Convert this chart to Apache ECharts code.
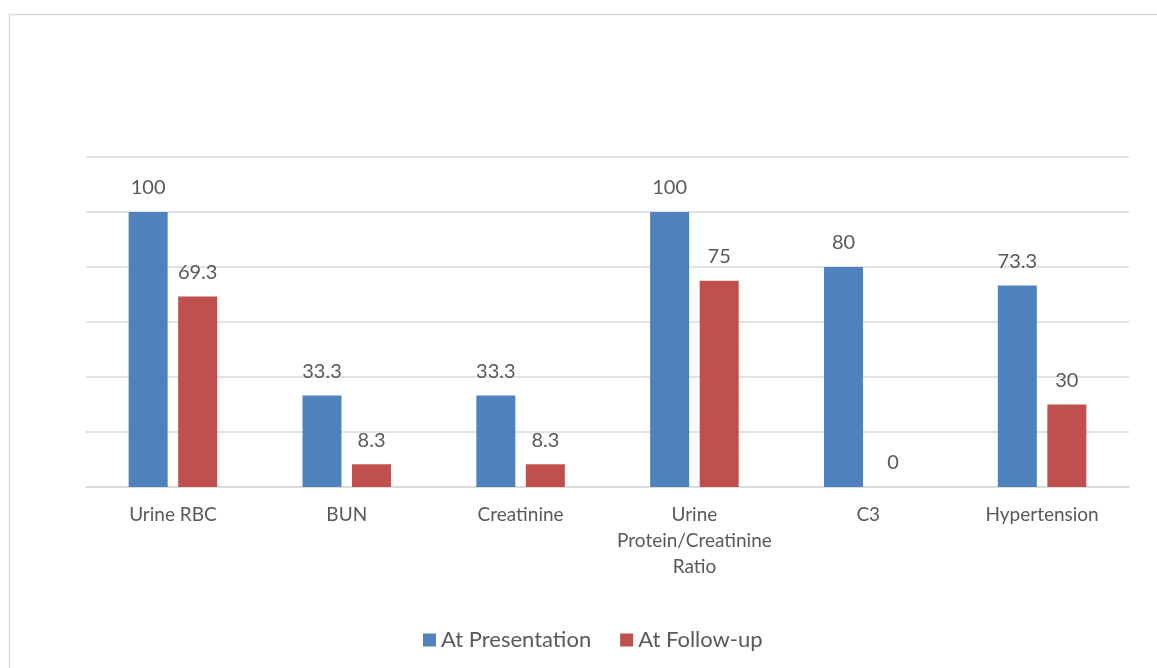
<!DOCTYPE html>
<html>
<head>
<meta charset="utf-8">
<style>
  html, body { margin: 0; padding: 0; background: #ffffff; }
  #chart { width: 1157px; height: 668px; }
</style>
<script src="https://cdn.jsdelivr.net/npm/echarts@6/dist/echarts.min.js"></script>
</head>
<body>
<div id="chart"></div>
<script>
// Categories and percentage values for each group
const categories = ['Urine RBC', 'BUN', 'Creatinine', 'Urine\nProtein/Creatinine\nRatio', 'C3', 'Hypertension'];
const atPresentation = [100, 33.3, 33.3, 100, 80, 73.3];
const atFollowUp = [69.3, 8.3, 8.3, 75, 0, 30];
const seriesNames = ['At Presentation', 'At Follow-up'];

const FONT = 'Lato, "Open Sans", sans-serif';
const TEXT = '#595959';
const GRID = '#d9d9d9';

const chart = echarts.init(document.getElementById('chart'), null, { renderer: 'canvas' });

const labelStyle = {
  show: true,
  position: 'top',
  distance: 14,
  color: TEXT,
  fontFamily: FONT,
  fontSize: 20
};

chart.setOption({
  backgroundColor: '#ffffff',
  animation: false,
  graphic: [{
    type: 'rect',
    shape: { x: 9.5, y: 14.5, width: 1300, height: 800 },
    style: { fill: 'none', stroke: GRID, lineWidth: 1.5 },
    silent: true
  }],
  legend: {
    data: seriesNames,
    left: 418,
    top: 624,
    icon: 'rect',
    itemWidth: 13,
    itemHeight: 13,
    itemGap: 29,
    textStyle: { color: TEXT, fontFamily: FONT, fontSize: 22 }
  },
  grid: { left: 86, right: 28, top: 157, bottom: 181, containLabel: false },
  xAxis: {
    type: 'category',
    data: categories,
    axisLine: { show: true, lineStyle: { color: GRID, width: 1.5 } },
    axisTick: { show: false },
    axisLabel: {
      color: TEXT,
      fontFamily: FONT,
      fontSize: 19,
      margin: 15,
      lineHeight: 26,
      interval: 0
    }
  },
  yAxis: {
    type: 'value',
    min: 0,
    max: 120,
    interval: 20,
    axisLabel: { show: false },
    axisLine: { show: false },
    axisTick: { show: false },
    splitLine: { lineStyle: { color: GRID, width: 1.5 } }
  },
  series: [
    {
      name: seriesNames[0],
      type: 'bar',
      data: atPresentation,
      barWidth: 39,
      barGap: '27%',
      itemStyle: { color: '#4f81bd' },
      label: labelStyle
    },
    {
      name: seriesNames[1],
      type: 'bar',
      data: atFollowUp,
      barWidth: 39,
      itemStyle: { color: '#c0504d' },
      label: labelStyle
    }
  ]
});
</script>
</body>
</html>
